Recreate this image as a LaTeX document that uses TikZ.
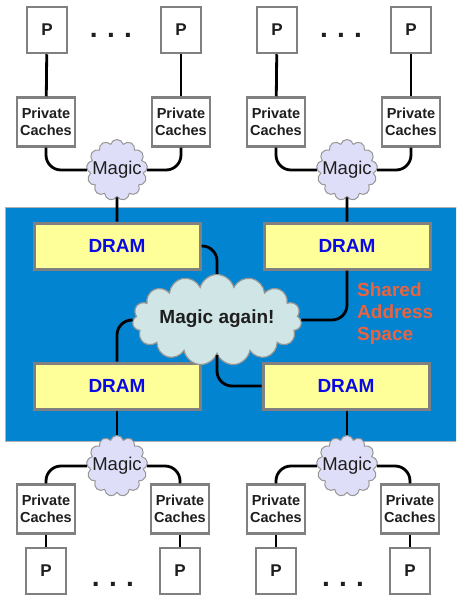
\documentclass[tikz,border=0pt]{standalone}
\usepackage{fontspec}
\setmainfont{Liberation Sans}
\usetikzlibrary{shapes.symbols}
\definecolor{bgblue}{RGB}{2,132,208}
\definecolor{boxgray}{RGB}{128,128,128}
\definecolor{cloudgray}{RGB}{150,150,150}
\definecolor{dramyellow}{RGB}{255,255,153}
\definecolor{dramblue}{RGB}{10,10,230}
\definecolor{lavender}{RGB}{222,222,248}
\definecolor{paleteal}{RGB}{208,230,230}
\definecolor{textdark}{RGB}{30,30,30}
\definecolor{sharedorange}{RGB}{232,100,64}
\begin{document}
\begin{tikzpicture}[x=1pt,y=-1pt,
  proc/.style={draw=boxgray, line width=2.5pt, fill=white, minimum width=40pt,
    minimum height=46pt, inner sep=0pt, text=textdark,
    font=\fontsize{17}{20}\selectfont\bfseries},
  cache/.style={draw=boxgray, line width=2.5pt, fill=white, minimum width=58pt,
    minimum height=49pt, inner sep=0pt, align=center, text=textdark,
    font=\fontsize{14.5}{17}\selectfont\bfseries},
  dram/.style={draw=boxgray, line width=3pt, fill=dramyellow, minimum width=166pt,
    minimum height=46pt, inner sep=0pt, text=dramblue,
    font=\fontsize{19}{22}\selectfont\bfseries},
  smallcloud/.style={cloud, cloud puffs=13, aspect=1, draw=cloudgray, line width=1pt,
    fill=lavender, minimum width=61pt, minimum height=61pt, inner sep=0pt},
  bigcloud/.style={cloud, cloud puffs=15, aspect=1.9, draw=cloudgray, line width=1.2pt,
    fill=paleteal, minimum width=169pt, minimum height=91pt, inner sep=0pt},
  cloudtext/.style={text=textdark, inner sep=0pt, font=\fontsize{18.5}{20}\selectfont},
  wire/.style={line width=2.8pt, black, rounded corners=15pt},
  dots/.style={text=textdark, inner sep=0pt, font=\fontsize{28}{28}\selectfont\bfseries},
]
\useasboundingbox (0,0) rectangle (456,596);
\clip (0,0) rectangle (456,596);

% shared address space background
\fill[bgblue] (5,207) rectangle (458,441);
\draw[gray!60, line width=0.6pt] (5,207) rectangle (458,441);

% top processor groups
\foreach \g/\dx in {tl/0, tr/230} {
  \node[proc] (\g p1) at (47+\dx,30) {P};
  \node[proc] (\g p2) at (181+\dx,30) {P};
  \node[dots] (\g dots) at (111+\dx,35) {.\,\,.\,\,.};
  \node[cache] (\g c1) at (46+\dx,122) {Private\\Caches};
  \node[cache] (\g c2) at (181+\dx,122) {Private\\Caches};
  \node[smallcloud] (\g m) at (117+\dx,170) {};
  \node[cloudtext] (\g mt) at (117+\dx,170) {Magic};
  \draw[wire] (\g p1) -- (\g c1);
  \draw[wire] (\g p2) -- (\g c2);
  \draw[wire] (\g c1.south) |- (\g m.west);
  \draw[wire] (\g c2.south) |- (\g m.east);
}

% bottom processor groups
\foreach \g/\dx in {bl/0, br/230} {
  \node[smallcloud] (\g m) at (117+\dx,466) {};
  \node[cloudtext] (\g mt) at (117+\dx,466) {Magic};
  \node[cache] (\g c1) at (46+\dx,509) {Private\\Caches};
  \node[cache] (\g c2) at (180+\dx,509) {Private\\Caches};
  \node[proc] (\g p1) at (46+\dx,571) {P};
  \node[proc] (\g p2) at (180+\dx,571) {P};
  \node[dots] (\g dots) at (113+\dx,584) {.\,\,.\,\,.};
  \draw[wire] (\g c1) -- (\g p1);
  \draw[wire] (\g c2) -- (\g p2);
  \draw[wire] (\g c1.north) |- (\g m.west);
  \draw[wire] (\g c2.north) |- (\g m.east);
}

% memories and the interconnect between them
\node[dram] (d1) at (117,246) {DRAM};
\node[dram] (d2) at (347,246) {DRAM};
\node[dram] (d3) at (117,386) {DRAM};
\node[dram] (d4) at (346,386) {DRAM};
\node[bigcloud] (mc) at (217,320) {};
\node[text=textdark, inner sep=0pt, font=\fontsize{19}{22}\selectfont\bfseries]
  (mct) at (217,319) {Magic again!};

\draw[wire] (tlm.south) -- (d1.north);
\draw[wire] (trm.south) -- (d2.north);
\draw[wire] (d3.south) -- (blm.north);
\draw[wire] (d4.south -| brm) -- (brm.north);
\draw[wire] (d1.east) -| (mc.north);
\draw[wire] (d2.south) |- (mc.east);
\draw[wire] (d3.north) |- (mc.west);
\draw[wire] (d4.west) -| (mc.south);

\node[anchor=north west, align=left, inner sep=0pt, text=sharedorange,
  font=\fontsize{19}{22}\selectfont\bfseries] (sas) at (357,283)
  {Shared\\Address\\Space};
\end{tikzpicture}
\end{document}
